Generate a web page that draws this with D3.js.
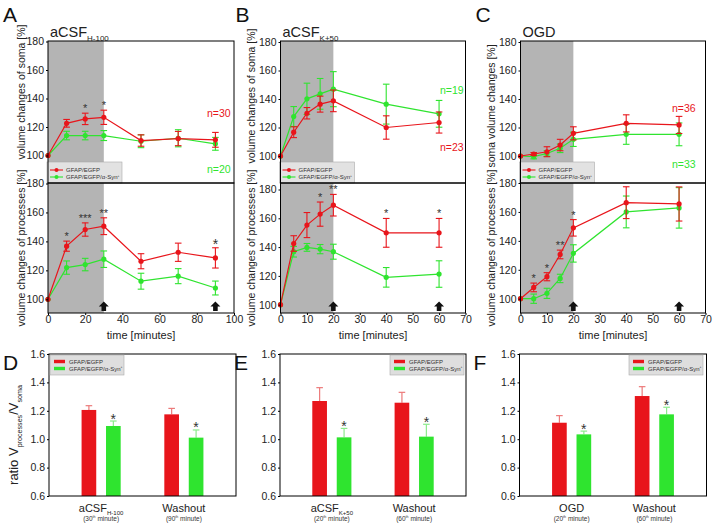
<!DOCTYPE html>
<html>
<head>
<meta charset="utf-8">
<script src="https://cdn.jsdelivr.net/npm/d3@7"></script>
<style>
body { margin: 0; background: #fff; }
svg { font-family: "Liberation Sans", Arial, sans-serif; }
</style>
</head>
<body>
<div id="chart"></div>
<script>
// ---- data ----
const timesA = [0, 10, 20, 30, 50, 70, 90];
const somaA_ctrl = [100, 122.6, 125.7, 126.8, 110.5, 111.9, 111];
const somaA_ctrlErr = [0, 2.7, 4, 5, 4, 5, 5.2];
const somaA_syn = [100, 114, 114, 114, 110, 112.1, 108.2];
const somaA_synErr = [0, 3, 3, 3.5, 4.5, 6, 4.5];
const procA_ctrl = [100, 136.7, 148.2, 150.5, 126.3, 132.5, 128.6];
const procA_ctrlErr = [0, 3.5, 4.6, 5.8, 5.2, 6.3, 7];
const procA_syn = [100, 121.9, 124, 127.7, 112.5, 116, 107.8];
const procA_synErr = [0, 4.6, 4.3, 5.7, 5.5, 5.2, 4.8];

const timesB = [0, 5, 10, 15, 20, 40, 60];
const somaB_ctrl = [100, 116.7, 130, 136.4, 138.7, 120, 123.5];
const somaB_ctrlErr = [0, 3.8, 4, 5.6, 7.6, 8.2, 7.4];
const somaB_syn = [100, 127.7, 140.1, 143.6, 146.9, 136.4, 129.6];
const somaB_synErr = [0, 7, 11, 10.8, 12.3, 14, 9.4];
const procB_ctrl = [100, 142.5, 155.3, 162.9, 169.1, 149.9, 149.9];
const procB_ctrlErr = [0, 5.4, 8.7, 8.4, 7.5, 10, 10];
const procB_syn = [100, 136.8, 139.8, 138.6, 136.8, 119, 121.3];
const procB_synErr = [0, 3.7, 2.7, 3.2, 5.2, 6.8, 9.2];

const timesC = [0, 5, 10, 15, 20, 40, 60];
const somaC_ctrl = [100, 101.4, 103, 107.7, 115.9, 122.9, 121.8];
const somaC_ctrlErr = [0, 1, 3.5, 4, 4.6, 6, 6];
const somaC_syn = [100, 99.5, 101.8, 105.4, 111.7, 115.2, 115.2];
const somaC_synErr = [0, 1.5, 2, 3, 5, 7, 8];
const procC_ctrl = [100, 107.8, 115.2, 130.6, 149, 166.4, 165.5];
const procC_ctrlErr = [0, 3, 2.8, 3, 5.7, 11, 11.8];
const procC_syn = [100, 100, 103.7, 114, 131.3, 160, 162.8];
const procC_synErr = [0, 3.2, 3.5, 2.9, 6, 11, 14];

// significance marks: [point index, label, font size]
const starsA_soma = [[2, "*", 11], [3, "*", 11]];
const starsA_proc = [[1, "*", 11], [2, "***", 11], [3, "**", 11], [6, "*", 14]];
const starsB_proc = [[3, "*", 11], [4, "**", 11], [5, "*", 11], [6, "*", 11]];
const starsC_proc = [[1, "*", 11], [2, "*", 11], [3, "**", 11], [4, "*", 11]];

const nA = ["n=30", "n=20"];
const nB = ["n=23", "n=19"];
const nC = ["n=36", "n=33"];

// ratio bars
const groups = ["ctrl", "syn"];
const ratioD_ctrl = [1.206, 1.175], ratioD_ctrlErr = [0.03, 0.042];
const ratioD_syn = [1.093, 1.011], ratioD_synErr = [0.035, 0.054];
const ratioE_ctrl = [1.269, 1.257], ratioE_ctrlErr = [0.094, 0.073];
const ratioE_syn = [1.013, 1.018], ratioE_synErr = [0.063, 0.087];
const ratioF_ctrl = [1.116, 1.304], ratioF_ctrlErr = [0.05, 0.066];
const ratioF_syn = [1.034, 1.175], ratioF_synErr = [0.023, 0.05];

const catD = [[["aCSF", ""], ["H-100", "sub"]], [["Washout", ""]]];
const catE = [[["aCSF", ""], ["K+50", "sub"]], [["Washout", ""]]];
const catF = [[["OGD", ""]], [["Washout", ""]]];
const minuteD = ["30", "90"], minuteE = ["20", "60"], minuteF = ["20", "60"];

const lineTicks = [100, 120, 140, 160, 180];
const ratioTicks = [0.6, 0.8, 1.0, 1.2, 1.4, 1.6];

const RED = "#e8151b", GREEN = "#2fe42f";
const RED_ERR = "#ec7a7a", GREEN_ERR = "#8ceb8c";
const FS = 10.5;

const svg = d3.select("#chart").append("svg")
    .attr("width", 714)
    .attr("height", 525)

// text with sub / superscript parts
function rich(sel, parts, size) {
    let off = 0
    parts.forEach(([t, k]) => {
        const target = k === "sub" ? size * 0.3 : k === "sup" ? -size * 0.4 : 0
        sel.append("tspan")
            .attr("dy", target - off)
            .attr("font-size", k ? size * 0.55 : size)
            .text(t)
        off = target
    })
    return sel
}

function drawSeries(g, x, y, times, vals, errs, color) {
    g.append("path")
        .datum(d3.range(times.length))
        .attr("d", d3.line().x(i => x(times[i])).y(i => y(vals[i])))
        .attr("fill", "none")
        .attr("stroke", color)
        .attr("stroke-width", 1.2)

    times.forEach((t, i) => {
        if (!errs[i]) return
        const cx = x(t), y1 = y(vals[i] + errs[i]), y2 = y(vals[i] - errs[i])
        g.append("line").attr("x1", cx).attr("x2", cx).attr("y1", y1).attr("y2", y2)
            .attr("stroke", color).attr("stroke-width", 1.1)
        ;[y1, y2].forEach(yy => g.append("line")
            .attr("x1", cx - 3.3).attr("x2", cx + 3.3).attr("y1", yy).attr("y2", yy)
            .attr("stroke", color).attr("stroke-width", 1.1))
    })

    g.selectAll(null)
        .data(times)
        .enter().append("circle")
        .attr("cx", d => x(d))
        .attr("cy", (d, i) => y(vals[i]))
        .attr("r", 2.6)
        .attr("fill", color)
}

function drawStars(g, x, y, times, vals, errs, stars) {
    stars.forEach(([i, s, size]) => {
        g.append("text")
            .attr("x", x(times[i]))
            .attr("y", y(vals[i] + errs[i]) - 1 + (size - 11) * 0.6)
            .attr("text-anchor", "middle")
            .attr("font-size", size)
            .attr("fill", "#333")
            .text(s)
    })
}

function styleAxis(a) {
    a.select(".domain").remove()
    a.selectAll("line").attr("stroke", "#000")
    a.selectAll("text").attr("font-size", FS).attr("fill", "#222").attr("font-family", "Liberation Sans, Arial, sans-serif")
}

function linePanel(p) {
    const g = svg.append("g")
    const TOP = 41, MID = 183, BOT = 313
    const x = d3.scaleLinear().domain([0, p.xmax]).range(p.xr)
    const yT = d3.scaleLinear().domain([100, 180]).range(p.topY)
    const yB = d3.scaleLinear().domain([100, 180]).range(p.botY)

    // stimulus period
    g.append("rect")
        .attr("x", x(0)).attr("y", TOP)
        .attr("width", x(p.shade) - x(0)).attr("height", BOT - TOP)
        .attr("fill", "#b4b4b4")

    const top = g.append("g")
    drawSeries(top, x, yT, p.times, p.soma[2], p.soma[3], GREEN)
    drawSeries(top, x, yT, p.times, p.soma[0], p.soma[1], RED)
    drawStars(top, x, yT, p.times, p.soma[0], p.soma[1], p.starsTop)

    const bot = g.append("g")
    drawSeries(bot, x, yB, p.times, p.proc[2], p.proc[3], GREEN)
    drawSeries(bot, x, yB, p.times, p.proc[0], p.proc[1], RED)
    drawStars(bot, x, yB, p.times, p.proc[0], p.proc[1], p.starsBot)

    // washout arrows
    p.arrows.forEach(t => {
        const cx = x(t), b = BOT - 2
        g.append("path")
            .attr("d", `M${cx - 2.3},${b} L${cx - 2.3},${b - 4.5} L${cx - 5},${b - 4.5} L${cx},${b - 9.5} L${cx + 5},${b - 4.5} L${cx + 2.3},${b - 4.5} L${cx + 2.3},${b} Z`)
            .attr("fill", "#111")
    })

    // legend
    const lx = p.xr[0] - 1, ly = 162
    g.append("rect").attr("x", lx).attr("y", ly).attr("width", 75).attr("height", MID - ly)
        .attr("fill", "#e2e2e2").attr("stroke", "#aaa").attr("stroke-width", 0.6)
    const entries = [[RED, [["GFAP/EGFP", ""]]], [GREEN, [["GFAP/EGFP/α-Syn", ""], ["+", "sup"]]]]
    entries.forEach(([c, parts], i) => {
        const yy = ly + 8 + i * 7
        g.append("line").attr("x1", lx + 3).attr("x2", lx + 16).attr("y1", yy).attr("y2", yy)
            .attr("stroke", c).attr("stroke-width", 1.1)
        g.append("circle").attr("cx", lx + 9.5).attr("cy", yy).attr("r", 2).attr("fill", c)
        rich(g.append("text").attr("x", lx + 19).attr("y", yy + 2).attr("fill", "#333"), parts, 6)
    })

    // boxes
    g.append("rect").attr("x", p.xr[0]).attr("y", TOP).attr("width", p.xr[1] - p.xr[0]).attr("height", MID - TOP)
        .attr("fill", "none").attr("stroke", "#000").attr("stroke-width", 1)
    g.append("rect").attr("x", p.xr[0]).attr("y", MID).attr("width", p.xr[1] - p.xr[0]).attr("height", BOT - MID)
        .attr("fill", "none").attr("stroke", "#000").attr("stroke-width", 1)

    // axes
    g.append("g").attr("transform", `translate(${p.xr[0]},0)`)
        .call(d3.axisLeft(yT).tickValues(lineTicks).tickSize(2).tickPadding(2)).call(styleAxis)
    g.append("g").attr("transform", `translate(${p.xr[0]},0)`)
        .call(d3.axisLeft(yB).tickValues(lineTicks).tickSize(2).tickPadding(2)).call(styleAxis)
    g.append("g").attr("transform", `translate(0,${BOT})`)
        .call(d3.axisBottom(x).tickValues(d3.range(0, p.xmax + 1, p.xstep)).tickSize(2).tickPadding(1)).call(styleAxis)

    // labels
    g.append("text").attr("x", (p.xr[0] + p.xr[1]) / 2).attr("y", 339).attr("text-anchor", "middle")
        .attr("font-size", 11).attr("fill", "#222").text("time [minutes]")
    g.append("text").attr("transform", `translate(${p.ylx},${p.topLabelY}) rotate(-90)`)
        .attr("text-anchor", "middle").attr("font-size", FS).attr("fill", "#222").text(p.topLabel)
    g.append("text").attr("transform", `translate(${p.ylx},248) rotate(-90)`)
        .attr("text-anchor", "middle").attr("font-size", FS).attr("fill", "#222").text("volume changes of processes  [%]")

    rich(g.append("text").attr("x", p.xr[0] + 2).attr("y", 37).attr("fill", "#222"), p.title, 14.5)
    g.append("text").attr("x", p.xr[0] - 45).attr("y", 22).attr("font-size", 21).attr("fill", "#111").text(p.letter)

    g.append("text").attr("x", p.nx).attr("y", p.ny[0]).attr("font-size", FS).attr("fill", RED).text(p.n[0])
    g.append("text").attr("x", p.nx).attr("y", p.ny[1]).attr("font-size", FS).attr("fill", GREEN).text(p.n[1])
}

linePanel({
    letter: "A", title: [["aCSF", ""], ["H-100", "sub"]],
    times: timesA, xmax: 100, xstep: 20, xr: [48, 234], shade: 30, arrows: [30, 90],
    topY: [155.5, 41.5], botY: [299.3, 183.5],
    soma: [somaA_ctrl, somaA_ctrlErr, somaA_syn, somaA_synErr],
    proc: [procA_ctrl, procA_ctrlErr, procA_syn, procA_synErr],
    starsTop: starsA_soma, starsBot: starsA_proc,
    ylx: 25, topLabelY: 92, topLabel: "volume changes of soma  [%]",
    n: nA, nx: 207, ny: [117, 173]
})
linePanel({
    letter: "B", title: [["aCSF", ""], ["K+50", "sub"]],
    times: timesB, xmax: 70, xstep: 10, xr: [280.5, 465.5], shade: 20, arrows: [20, 60],
    topY: [156, 42], botY: [304.7, 189.5],
    soma: [somaB_ctrl, somaB_ctrlErr, somaB_syn, somaB_synErr],
    proc: [procB_ctrl, procB_ctrlErr, procB_syn, procB_synErr],
    starsTop: [], starsBot: starsB_proc,
    ylx: 255, topLabelY: 96, topLabel: "volume changes of soma  [%]",
    n: nB, nx: 440, ny: [151, 94]
})
linePanel({
    letter: "C", title: [["OGD", ""]],
    times: timesC, xmax: 70, xstep: 10, xr: [520.5, 705.5], shade: 20, arrows: [20, 60],
    topY: [156, 42], botY: [298.7, 183],
    soma: [somaC_ctrl, somaC_ctrlErr, somaC_syn, somaC_synErr],
    proc: [procC_ctrl, procC_ctrlErr, procC_syn, procC_synErr],
    starsTop: [], starsBot: starsC_proc,
    ylx: 495, topLabelY: 106, topLabel: "soma volume changes  [%]",
    n: nC, nx: 672, ny: [112, 168]
})

function barPanel(p) {
    const g = svg.append("g")
    const TOP = 354, BOT = 496
    const y = d3.scaleLinear().domain([0.6, 1.6]).range([BOT, TOP])
    const x0 = d3.scalePoint().domain(d3.range(p.cats.length)).range(p.xr).padding(0.63)
    const x1 = d3.scaleBand().domain(groups).range([-22, 22]).paddingInner(0.4).paddingOuter(0.1)
    const series = [[p.ctrl, p.ctrlErr, RED, RED_ERR], [p.syn, p.synErr, GREEN, GREEN_ERR]]

    series.forEach(([vals, errs, c, ec], s) => {
        vals.forEach((v, i) => {
            const bx = x0(i) + x1(groups[s]), cx = bx + x1.bandwidth() / 2
            g.append("line").attr("x1", cx).attr("x2", cx).attr("y1", y(v)).attr("y2", y(v + errs[i]))
                .attr("stroke", ec).attr("stroke-width", 1.2)
            g.append("line").attr("x1", cx - 3.3).attr("x2", cx + 3.3).attr("y1", y(v + errs[i])).attr("y2", y(v + errs[i]))
                .attr("stroke", ec).attr("stroke-width", 1.2)
            g.append("rect").attr("x", bx).attr("y", y(v)).attr("width", x1.bandwidth()).attr("height", BOT - y(v))
                .attr("fill", c)
            if (s === 1) {
                g.append("text").attr("x", cx).attr("y", y(v + errs[i]) + 2.5).attr("text-anchor", "middle")
                    .attr("font-size", 14).attr("fill", "#333").text("*")
            }
        })
    })

    g.append("rect").attr("x", p.xr[0]).attr("y", TOP).attr("width", p.xr[1] - p.xr[0]).attr("height", BOT - TOP)
        .attr("fill", "none").attr("stroke", "#000").attr("stroke-width", 1)
    g.append("g").attr("transform", `translate(${p.xr[0]},0)`)
        .call(d3.axisLeft(y).tickValues(ratioTicks).tickFormat(d3.format(".1f")).tickSize(2).tickPadding(2))
        .call(styleAxis)

    // legend
    const lx = p.legendX, ly = TOP + 1
    g.append("rect").attr("x", lx).attr("y", ly).attr("width", 74).attr("height", 20)
        .attr("fill", "#dedede").attr("stroke", "#aaa").attr("stroke-width", 0.6)
    const entries = [[RED, [["GFAP/EGFP", ""]]], [GREEN, [["GFAP/EGFP/α-Syn", ""], ["+", "sup"]]]]
    entries.forEach(([c, parts], i) => {
        const yy = ly + 6.5 + i * 7
        g.append("rect").attr("x", lx + 4).attr("y", yy - 1.7).attr("width", 11).attr("height", 3.4).attr("fill", c)
        rich(g.append("text").attr("x", lx + 19).attr("y", yy + 2).attr("fill", "#333"), parts, 6)
    })

    // category labels
    p.cats.forEach((parts, i) => {
        rich(g.append("text").attr("x", x0(i)).attr("y", 512).attr("text-anchor", "middle").attr("fill", "#222"), parts, 11)
        rich(g.append("text").attr("x", x0(i)).attr("y", 521).attr("text-anchor", "middle").attr("fill", "#333"),
            [["(" + p.minutes[i], ""], ["th", "sup"], [" minute)", ""]], 6.5)
    })

    g.append("text").attr("x", p.xr[0] - 46).attr("y", 370).attr("font-size", 21).attr("fill", "#111").text(p.letter)
}

barPanel({ letter: "D", xr: [49, 236], cats: catD, minutes: minuteD, legendX: 50,
    ctrl: ratioD_ctrl, ctrlErr: ratioD_ctrlErr, syn: ratioD_syn, synErr: ratioD_synErr })
barPanel({ letter: "E", xr: [280, 466], cats: catE, minutes: minuteE, legendX: 390,
    ctrl: ratioE_ctrl, ctrlErr: ratioE_ctrlErr, syn: ratioE_syn, synErr: ratioE_synErr })
barPanel({ letter: "F", xr: [519.5, 706.5], cats: catF, minutes: minuteF, legendX: 629,
    ctrl: ratioF_ctrl, ctrlErr: ratioF_ctrlErr, syn: ratioF_syn, synErr: ratioF_synErr })

// y label of the ratio panels
rich(svg.append("text").attr("transform", "translate(18,435) rotate(-90)").attr("text-anchor", "middle").attr("fill", "#222"),
    [["ratio V", ""], ["processes", "sub"], ["/V", ""], ["soma", "sub"]], 13)
</script>
</body>
</html>
